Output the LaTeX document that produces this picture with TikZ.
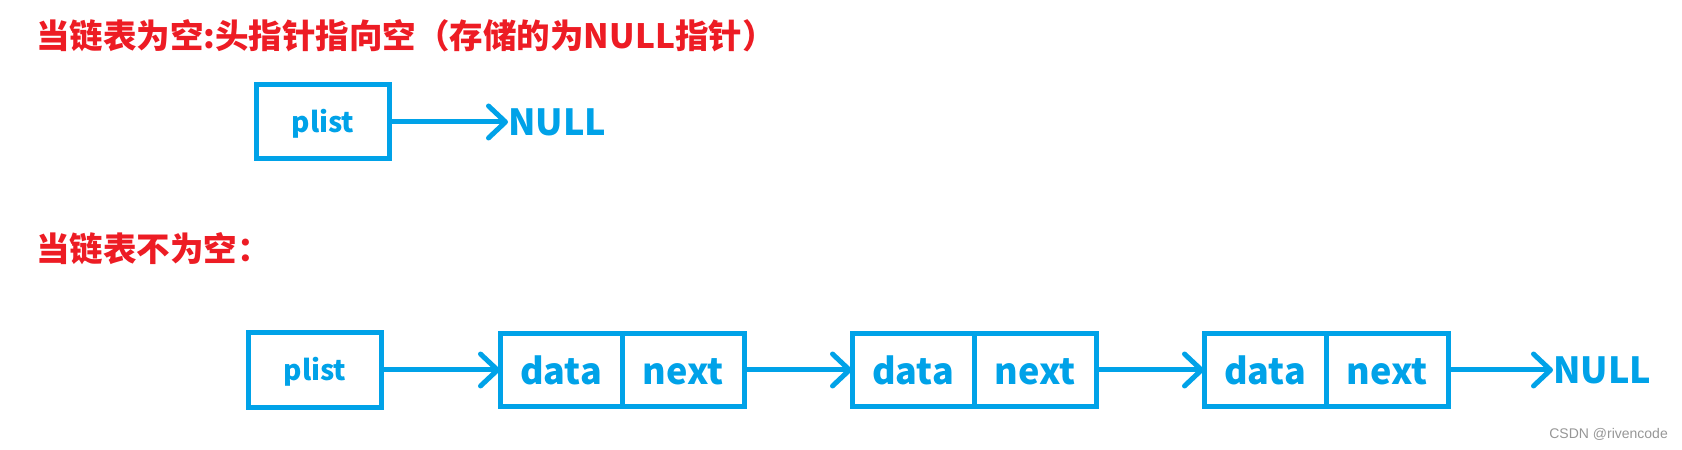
\documentclass[tikz,border=0pt]{standalone}
\usepackage{fontspec}
\setmainfont{Noto Sans CJK SC}
\newfontfamily\markfont{Liberation Sans}
\usetikzlibrary{arrows.meta,positioning}
\definecolor{listblue}{RGB}{0,162,232}
\definecolor{titlered}{RGB}{237,28,36}
\definecolor{markgray}{RGB}{150,150,150}
\begin{document}
\begin{tikzpicture}[x=1bp,y=-1bp,
    title/.style={anchor=west,inner sep=0pt,text=titlered,font=\fontsize{33.5bp}{36bp}\selectfont\bfseries},
    cell/.style={draw=listblue,line width=5bp,inner sep=0pt,outer sep=0pt,minimum width=122bp,minimum height=72bp,
      text=listblue,text height=28bp,text depth=0bp,font=\fontsize{36bp}{40bp}\selectfont\bfseries},
    headbox/.style={cell,minimum width=133bp,minimum height=74bp,text height=21bp,font=\fontsize{28bp}{32bp}\selectfont\bfseries},
    nullval/.style={anchor=west,inner sep=0pt,text=listblue,font=\fontsize{36bp}{40bp}\selectfont\bfseries},
    link/.style={draw=listblue,line width=5bp,-{Straight Barb[length=17bp,width=32bp,round]}}]
  \useasboundingbox (0,0) rectangle (1682,450);
  % empty list
  \node [title] (t1) at (36,36) {当链表为空:头指针指向空（存储的为NULL指针）};
  \node [headbox] (p1) at (323,122) {plist};
  \node [nullval] (z1) at (508,122) {NULL};
  \draw [link] (p1.east) -- (z1.west);
  % non-empty list
  \node [title] (t2) at (36,249) {当链表不为空：};
  \node [headbox] (p2) at (315,370) {plist};
  \node [cell] (d1) at (561,370) {data};
  \node [cell,right=0pt of d1] (n1) {next};
  \node [cell] (d2) at (913,370) {data};
  \node [cell,right=0pt of d2] (n2) {next};
  \node [cell] (d3) at (1265,370) {data};
  \node [cell,right=0pt of d3] (n3) {next};
  \node [nullval] (z2) at (1553,370) {NULL};
  \draw [link] (p2.east) -- (d1.west);
  \draw [link] (n1.east) -- (d2.west);
  \draw [link] (n2.east) -- (d3.west);
  \draw [link] (n3.east) -- (z2.west);
  \node [anchor=east,inner sep=0pt,text=markgray,font=\markfont\fontsize{14bp}{16bp}\selectfont] (mark) at (1668,434) {CSDN @rivencode};
\end{tikzpicture}
\end{document}
